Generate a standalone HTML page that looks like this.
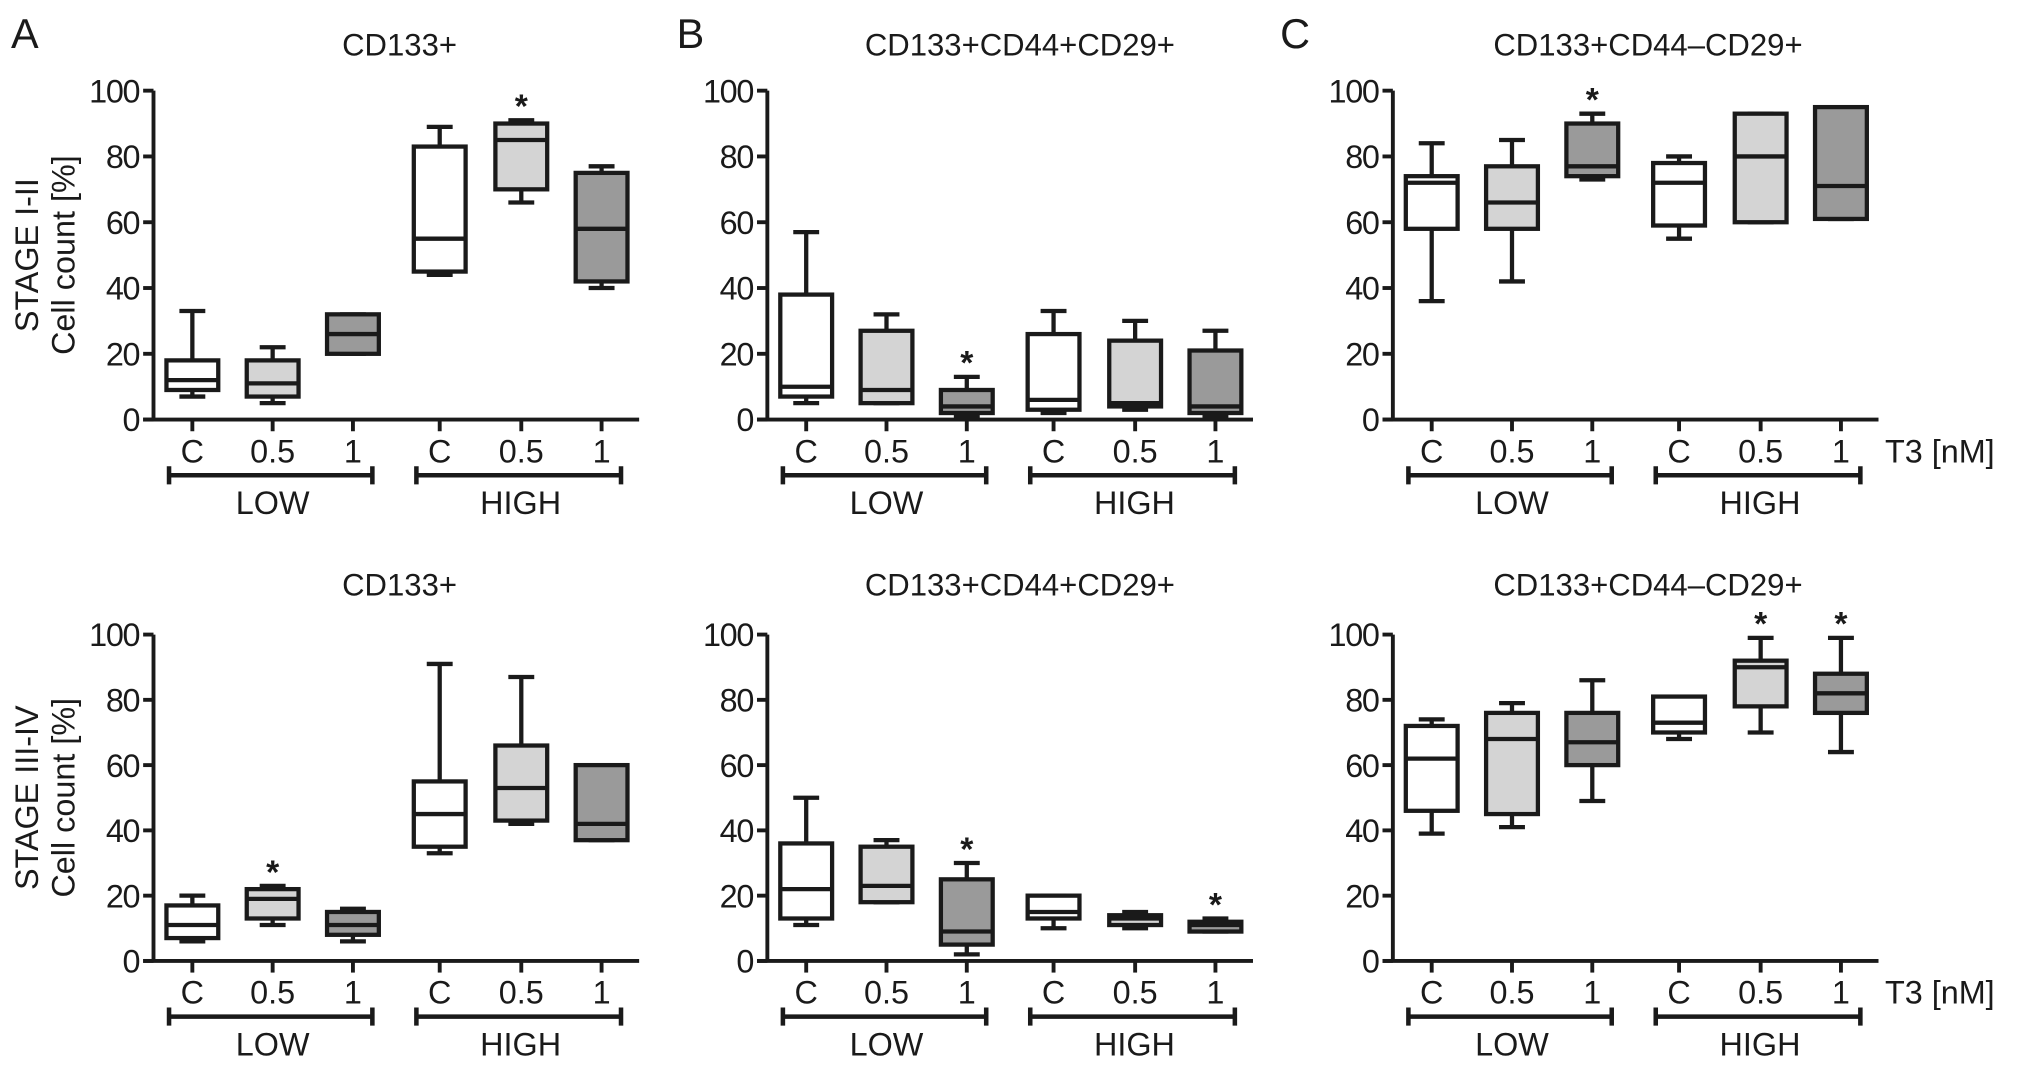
<!DOCTYPE html>
<html><head><meta charset="utf-8"><style>
html,body{margin:0;padding:0;background:#fff}
svg{display:block}
text{font-family:"Liberation Sans",Arial,sans-serif;fill:#1a1a1a}
</style></head><body>
<svg id="fig" width="2032" height="1071" viewBox="0 0 1568 827" xmlns="http://www.w3.org/2000/svg"></svg>
<script>
// category labels and tick labels
const categories = ["C","0.5","1","C","0.5","1"];
const groupLabels = ["LOW","HIGH"];
const yTicks = [0,20,40,60,80,100];
// panel titles
const titles = ["CD133+","CD133+CD44+CD29+","CD133+CD44\u2013CD29+"];
// box data: [whiskerLow, q1, median, q3, whiskerHigh] per category
const topA = [[7,9,12,18,33],[5,7,11,18,22],[20,20,26,32,32],[44,45,55,83,89],[66,70,85,90,91],[40,42,58,75,77]];
const topB = [[5,7,10,38,57],[5,5,9,27,32],[1,2,4,9,13],[2,3,6,26,33],[3,4,5,24,30],[1,2,4,21,27]];
const topC = [[36,58,72,74,84],[42,58,66,77,85],[73,74,77,90,93],[55,59,72,78,80],[60,60,80,93,93],[61,61,71,95,95]];
const botA = [[6,7,11,17,20],[11,13,19,22,23],[6,8,11,15,16],[33,35,45,55,91],[42,43,53,66,87],[37,37,42,60,60]];
const botB = [[11,13,22,36,50],[18,18,23,35,37],[2,5,9,25,30],[10,13,15,20,20],[10,11,13,14,15],[9,9,11,12,13]];
const botC = [[39,46,62,72,74],[41,45,68,76,79],[49,60,67,76,86],[68,70,73,81,81],[70,78,90,92,99],[64,76,82,88,99]];
// significance markers (index of category)
const starsTopA=[4], starsTopB=[2], starsTopC=[2], starsBotA=[1], starsBotB=[2,5], starsBotC=[4,5];

const fills = ["#ffffff","#d4d4d4","#9a9a9a","#ffffff","#d4d4d4","#9a9a9a"];
const NS="http://www.w3.org/2000/svg";
const svg=document.getElementById('fig');
function mk(tag,attrs,parent){const e=document.createElementNS(NS,tag);for(const k in attrs)e.setAttribute(k,attrs[k]);(parent||svg).appendChild(e);return e;}
function txt(s,attrs,parent){const e=mk('text',attrs,parent);e.textContent=s;return e;}

const panels=[
 {ax:118,y0:324,y100:70,data:topA,stars:starsTopA,title:0,tx:308,ty:43,t3:false,name:'top-a'},
 {ax:592,y0:324,y100:70,data:topB,stars:starsTopB,title:1,tx:787,ty:43,t3:false,name:'top-b'},
 {ax:1075,y0:324,y100:70,data:topC,stars:starsTopC,title:2,tx:1272,ty:43,t3:true,name:'top-c'},
 {ax:118,y0:742,y100:490,data:botA,stars:starsBotA,title:0,tx:308,ty:460,t3:false,name:'bottom-a'},
 {ax:592,y0:742,y100:490,data:botB,stars:starsBotB,title:1,tx:787,ty:460,t3:false,name:'bottom-b'},
 {ax:1075,y0:742,y100:490,data:botC,stars:starsBotC,title:2,tx:1272,ty:460,t3:true,name:'bottom-c'}
];
const offs=[30,92,154,221,284,346];
const bw=40, sw=3.3;
panels.forEach(p=>{
  const g=mk('g',{});
  
  
  const y=v=>p.y0+(p.y100-p.y0)*v/100;
  const xc=i=>p.ax+offs[i];
  const t=txt(titles[p.title],{x:p.tx,y:p.ty,'font-size':24,'text-anchor':'middle'},g);
  
  
  const ya=mk('line',{x1:p.ax,y1:p.y100,x2:p.ax,y2:p.y0,stroke:'#1a1a1a','stroke-width':3},g);
  
  
  const xa=mk('line',{x1:p.ax-8,y1:p.y0,x2:p.ax+375,y2:p.y0,stroke:'#1a1a1a','stroke-width':3},g);
  
  
  yTicks.forEach(v=>{
    mk('line',{x1:p.ax-8,y1:y(v),x2:p.ax,y2:y(v),stroke:'#1a1a1a','stroke-width':3},g);
    const l=txt(String(v),{x:p.ax-11,y:y(v)+9,'font-size':25,'text-anchor':'end','letter-spacing':'-1'},g);
    
    
  });
  categories.forEach((c,i)=>{
    mk('line',{x1:xc(i),y1:p.y0,x2:xc(i),y2:p.y0+9,stroke:'#1a1a1a','stroke-width':3},g);
    const l=txt(c,{x:xc(i),y:p.y0+33,'font-size':25,'text-anchor':'middle'},g);
    
    
  });
  [[0,2],[3,5]].forEach((r,k)=>{
    const x1=xc(r[0])-18, x2=xc(r[1])+15, by=p.y0+43;
    const b=mk('path',{d:`M${x1},${by-7}V${by+7}M${x1},${by}H${x2}M${x2},${by-7}V${by+7}`,stroke:'#1a1a1a','stroke-width':3.5,fill:'none'},g);
    
    
    const l=txt(groupLabels[k],{x:(xc(r[0])+xc(r[1]))/2,y:p.y0+73,'font-size':25,'text-anchor':'middle'},g);
    
    
  });
  if(p.t3){
    const l=txt('T3 [nM]',{x:p.ax+380,y:p.y0+33,'font-size':25},g);
    
    
  }
  p.data.forEach((d,i)=>{
    const cx=xc(i);
    const bg=mk('g',{},g);
    
    
    const cap=10;
    mk('path',{d:`M${cx},${y(d[3])}V${y(d[4])}M${cx-cap},${y(d[4])}H${cx+cap}M${cx},${y(d[1])}V${y(d[0])}M${cx-cap},${y(d[0])}H${cx+cap}`,stroke:'#1a1a1a','stroke-width':sw,fill:'none'},bg);
    mk('rect',{x:cx-bw/2,y:y(d[3]),width:bw,height:Math.max(0,y(d[1])-y(d[3])),fill:fills[i],stroke:'#1a1a1a','stroke-width':sw},bg);
    mk('line',{x1:cx-bw/2,y1:y(d[2]),x2:cx+bw/2,y2:y(d[2]),stroke:'#1a1a1a','stroke-width':sw},bg);
  });
  p.stars.forEach(i=>{
    const s=txt('*',{x:xc(i),y:y(p.data[i][4])-2,'font-size':26,'text-anchor':'middle','font-weight':'bold'},g);
    
    
  });
});
[['A',8],['B',522],['C',988]].forEach(a=>{
  const l=txt(a[0],{x:a[1],y:37,'font-size':32},svg);
  
  
});
[['STAGE I-II',197],['STAGE III-IV',616]].forEach(a=>{
  const l1=txt(a[0],{x:0,y:0,'font-size':25,'text-anchor':'middle',transform:`translate(29,${a[1]}) rotate(-90)`},svg);
  
  
  const l2=txt('Cell count [%]',{x:0,y:0,'font-size':25,'text-anchor':'middle',transform:`translate(57,${a[1]}) rotate(-90)`},svg);
  
  
});
</script>
</body></html>
